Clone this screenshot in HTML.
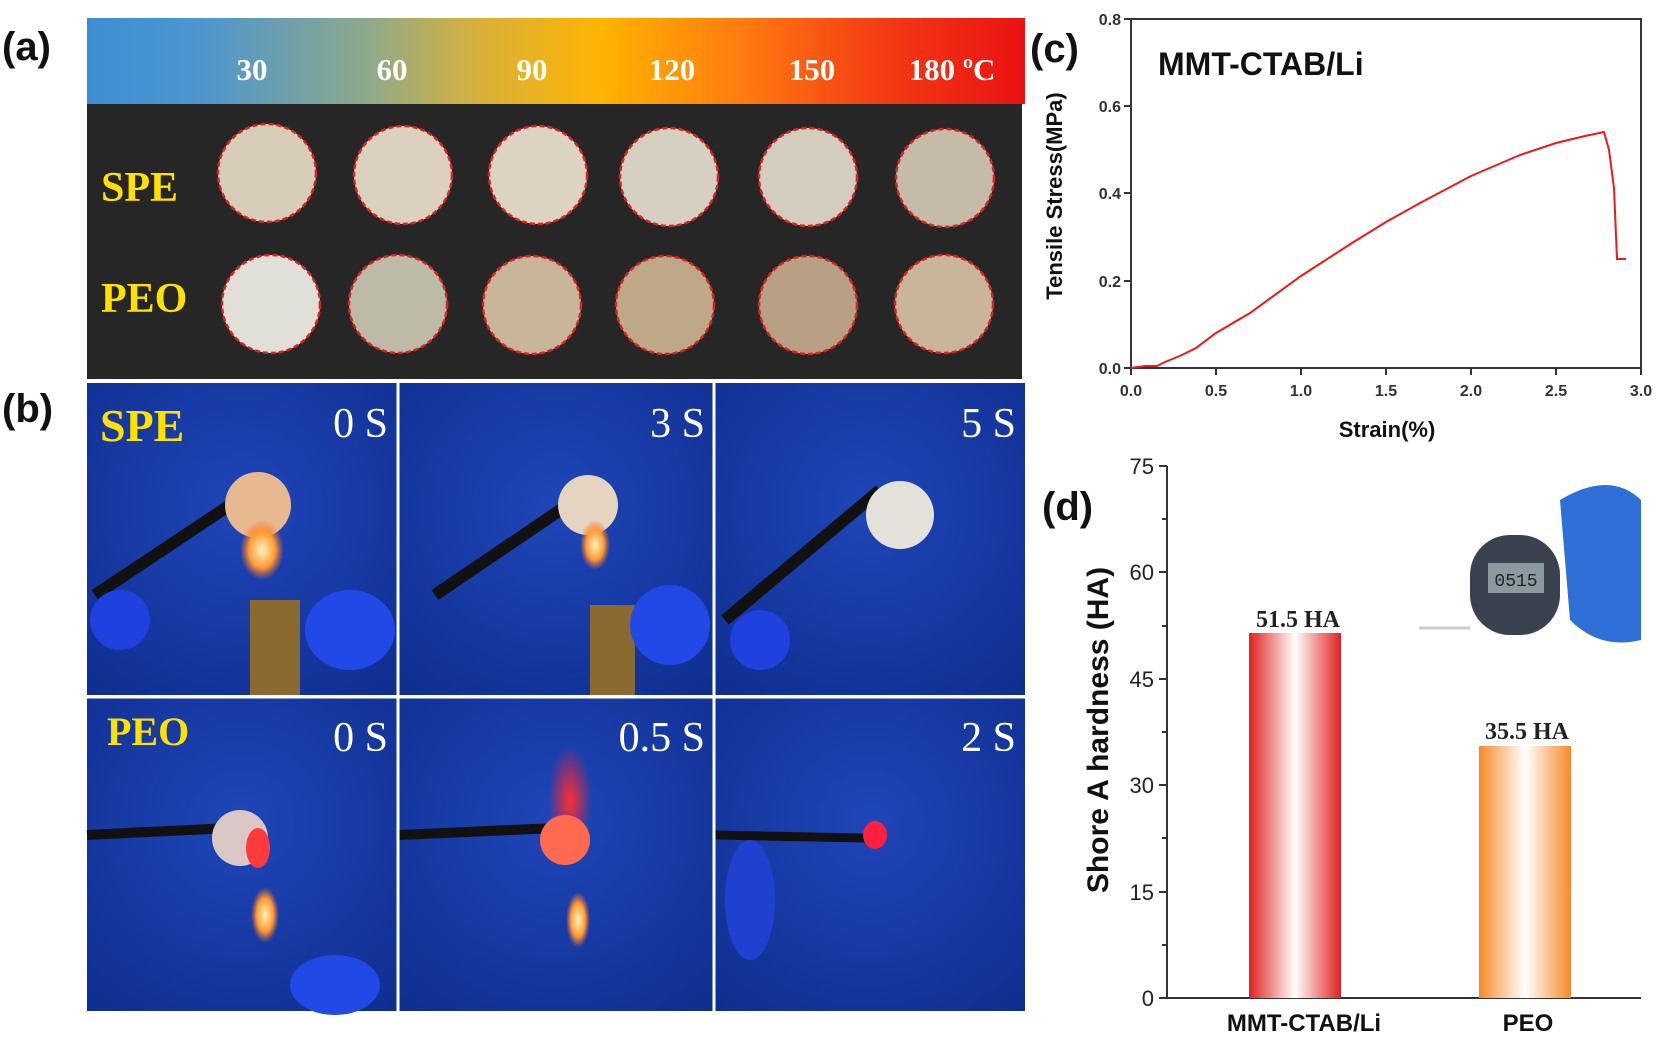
<!DOCTYPE html>
<html><head><meta charset="utf-8"><style>
html,body{margin:0;padding:0;background:#fff;}
svg{display:block;}
</style></head><body>
<svg width="1660" height="1043" viewBox="0 0 1660 1043" xmlns="http://www.w3.org/2000/svg">
<defs>
<linearGradient id="tg" x1="0" x2="1" y1="0" y2="0">
<stop offset="0" stop-color="#3d8fd3"/><stop offset="0.12" stop-color="#4c95cf"/>
<stop offset="0.3" stop-color="#8fa98a"/><stop offset="0.42" stop-color="#d9b13a"/>
<stop offset="0.55" stop-color="#ffb300"/><stop offset="0.7" stop-color="#ff7a10"/>
<stop offset="0.85" stop-color="#f43a14"/><stop offset="1" stop-color="#ea1212"/>
</linearGradient>
<linearGradient id="br" x1="0" x2="1"><stop offset="0" stop-color="#e02020"/><stop offset="0.5" stop-color="#fff"/><stop offset="1" stop-color="#e02020"/></linearGradient>
<linearGradient id="bo" x1="0" x2="1"><stop offset="0" stop-color="#f58a2a"/><stop offset="0.5" stop-color="#fff"/><stop offset="1" stop-color="#f58a2a"/></linearGradient>
<radialGradient id="blue" cx="0.5" cy="0.4" r="0.8"><stop offset="0" stop-color="#1f46b8"/><stop offset="1" stop-color="#0e2d8e"/></radialGradient>
<radialGradient id="flame" cx="0.5" cy="0.5" r="0.5"><stop offset="0" stop-color="#fff3c0"/><stop offset="0.6" stop-color="#ff9a30"/><stop offset="1" stop-color="#ff6a20" stop-opacity="0"/></radialGradient>
<radialGradient id="redg" cx="0.5" cy="0.5" r="0.5"><stop offset="0" stop-color="#ff3030"/><stop offset="1" stop-color="#ff2030" stop-opacity="0"/></radialGradient>
</defs>
<rect width="1660" height="1043" fill="#fff"/>
<!-- (a) -->
<text x="2" y="60" font-family="Liberation Sans, sans-serif" font-size="40" font-weight="bold" fill="#111">(a)</text>
<rect x="87" y="18" width="938" height="86" fill="url(#tg)"/>
<g font-family="Liberation Serif, serif" font-weight="bold" font-size="31" fill="#fff" text-anchor="middle">
<text x="252" y="80">30</text><text x="392" y="80">60</text><text x="532" y="80">90</text>
<text x="672" y="80">120</text><text x="812" y="80">150</text><text x="952" y="80">180 ºC</text>
</g>
<rect x="87" y="104" width="935" height="275" fill="#262626"/>
<g font-family="Liberation Serif, serif" font-weight="bold" font-size="42" fill="#ffe100">
<text x="101" y="201">SPE</text><text x="101" y="312">PEO</text>
</g>
<g stroke="#e02020" stroke-width="2.5" stroke-dasharray="5,3">
<circle cx="267" cy="173" r="49" fill="#d8cdb8"/><circle cx="403" cy="175" r="49" fill="#dcd1be"/>
<circle cx="538" cy="175" r="49" fill="#dcd3c2"/><circle cx="669" cy="177" r="49" fill="#d6d0c2"/>
<circle cx="808" cy="177" r="49" fill="#d3cdc0"/><circle cx="945" cy="178" r="49" fill="#c5bba8"/>
<circle cx="271" cy="304" r="49" fill="#e0e0d8"/><circle cx="398" cy="304" r="49" fill="#bdbaa8"/>
<circle cx="532" cy="305" r="49" fill="#c8b59a"/><circle cx="665" cy="305" r="49" fill="#bfa888"/>
<circle cx="808" cy="305" r="49" fill="#b9a084"/><circle cx="944" cy="304" r="49" fill="#c9b69a"/>
</g>
<!-- (b) -->
<text x="2" y="422" font-family="Liberation Sans, sans-serif" font-size="40" font-weight="bold" fill="#111">(b)</text>
<g>
<rect x="87" y="383" width="310" height="312" fill="url(#blue)"/>
<rect x="399" y="383" width="314" height="312" fill="url(#blue)"/>
<rect x="715" y="383" width="310" height="312" fill="url(#blue)"/>
<rect x="87" y="698" width="310" height="313" fill="url(#blue)"/>
<rect x="399" y="698" width="314" height="313" fill="url(#blue)"/>
<rect x="715" y="698" width="310" height="313" fill="url(#blue)"/>
</g>
<g>
<line x1="95" y1="595" x2="245" y2="495" stroke="#111" stroke-width="12"/>
<circle cx="258" cy="505" r="33" fill="#e8b890"/><ellipse cx="262" cy="550" rx="22" ry="30" fill="url(#flame)"/>
<rect x="250" y="600" width="50" height="95" fill="#8a6a30"/><ellipse cx="120" cy="620" rx="30" ry="30" fill="#2040e0"/>
<ellipse cx="350" cy="630" rx="45" ry="40" fill="#2348e8"/>
<line x1="435" y1="595" x2="575" y2="500" stroke="#111" stroke-width="12"/>
<circle cx="588" cy="505" r="30" fill="#e4d4c0"/><ellipse cx="595" cy="545" rx="15" ry="25" fill="url(#flame)"/>
<rect x="590" y="605" width="45" height="90" fill="#8a6a30"/><ellipse cx="670" cy="625" rx="40" ry="40" fill="#2348e8"/>
<line x1="725" y1="620" x2="880" y2="490" stroke="#111" stroke-width="12"/>
<circle cx="900" cy="515" r="34" fill="#e4e0da"/><ellipse cx="760" cy="640" rx="30" ry="30" fill="#2040e0"/>
</g>
<g>
<line x1="87" y1="835" x2="230" y2="828" stroke="#111" stroke-width="10"/>
<circle cx="240" cy="838" r="28" fill="#d9c8c4"/><ellipse cx="258" cy="848" rx="12" ry="20" fill="#ff3a3a"/>
<ellipse cx="265" cy="915" rx="14" ry="28" fill="url(#flame)"/><ellipse cx="335" cy="985" rx="45" ry="30" fill="#2348e8"/>
<line x1="399" y1="835" x2="555" y2="828" stroke="#111" stroke-width="10"/>
<ellipse cx="570" cy="800" rx="22" ry="55" fill="url(#redg)"/><circle cx="565" cy="840" r="25" fill="#ff6a50"/>
<ellipse cx="578" cy="920" rx="12" ry="28" fill="url(#flame)"/>
<line x1="715" y1="835" x2="865" y2="838" stroke="#111" stroke-width="9"/>
<ellipse cx="875" cy="835" rx="12" ry="14" fill="#ff2040"/><ellipse cx="750" cy="900" rx="25" ry="60" fill="#2040d0"/>
</g>
<g stroke="#fff" stroke-width="3"><line x1="398" y1="383" x2="398" y2="1011"/><line x1="714" y1="383" x2="714" y2="1011"/><line x1="87" y1="697" x2="1025" y2="697"/></g>
<g font-family="Liberation Serif, serif" font-size="42" fill="#fff" text-anchor="end">
<text x="388" y="437">0 S</text><text x="705" y="437">3 S</text><text x="1016" y="437">5 S</text>
<text x="388" y="751">0 S</text><text x="705" y="751">0.5 S</text><text x="1016" y="751">2 S</text>
</g>
<g font-family="Liberation Serif, serif" font-weight="bold" fill="#ffe100">
<text x="100" y="441" font-size="46">SPE</text><text x="107" y="745" font-size="40">PEO</text>
</g>
<!-- (c) -->
<text x="1030" y="62" font-family="Liberation Sans, sans-serif" font-size="40" font-weight="bold" fill="#111">(c)</text>
<rect x="1131" y="19" width="510" height="349" fill="none" stroke="#333" stroke-width="2"/>
<g stroke="#333" stroke-width="2">
<line x1="1131" y1="368" x2="1131" y2="375"/><line x1="1216" y1="368" x2="1216" y2="375"/><line x1="1301" y1="368" x2="1301" y2="375"/>
<line x1="1386" y1="368" x2="1386" y2="375"/><line x1="1471" y1="368" x2="1471" y2="375"/><line x1="1556" y1="368" x2="1556" y2="375"/><line x1="1641" y1="368" x2="1641" y2="375"/>
<line x1="1124" y1="368" x2="1131" y2="368"/><line x1="1124" y1="281" x2="1131" y2="281"/><line x1="1124" y1="193" x2="1131" y2="193"/><line x1="1124" y1="106" x2="1131" y2="106"/><line x1="1124" y1="19" x2="1131" y2="19"/>
</g>
<g font-family="Liberation Sans, sans-serif" font-size="16" font-weight="bold" fill="#333" text-anchor="middle">
<text x="1131" y="396">0.0</text><text x="1216" y="396">0.5</text><text x="1301" y="396">1.0</text><text x="1386" y="396">1.5</text><text x="1471" y="396">2.0</text><text x="1556" y="396">2.5</text><text x="1641" y="396">3.0</text>
</g>
<g font-family="Liberation Sans, sans-serif" font-size="16" font-weight="bold" fill="#333" text-anchor="end">
<text x="1121" y="374">0.0</text><text x="1121" y="287">0.2</text><text x="1121" y="199">0.4</text><text x="1121" y="112">0.6</text><text x="1121" y="25">0.8</text>
</g>
<text x="1387" y="437" font-family="Liberation Sans, sans-serif" font-size="22" font-weight="bold" fill="#111" text-anchor="middle">Strain(%)</text>
<text transform="translate(1062,196) rotate(-90)" font-family="Liberation Sans, sans-serif" font-size="22" font-weight="bold" fill="#111" text-anchor="middle">Tensile Stress(MPa)</text>
<text x="1158" y="75" font-family="Liberation Sans, sans-serif" font-size="32" font-weight="bold" fill="#111">MMT-CTAB/Li</text>
<polyline fill="none" stroke="#f01818" stroke-width="2" points="1131,368 1145,366 1157,366 1165,362 1182,355 1196,348 1216,333 1250,313 1301,276 1352,243 1386,222 1420,203 1471,176 1520,155 1556,143 1585,136 1604,132 1609,150 1614,188 1617,259 1626,259"/>
<!-- (d) -->
<text x="1042" y="520" font-family="Liberation Sans, sans-serif" font-size="40" font-weight="bold" fill="#111">(d)</text>
<rect x="1419" y="487" width="222" height="160" fill="#fff"/>
<path d="M1560,500 Q1610,470 1641,500 L1641,640 Q1600,650 1570,620 Z" fill="#2e6fd8"/>
<rect x="1470" y="535" width="90" height="100" rx="40" fill="#3a4250"/>
<rect x="1488" y="563" width="56" height="30" fill="#8a9aa0"/>
<text x="1516" y="586" font-family="Liberation Mono, monospace" font-size="18" fill="#222" text-anchor="middle">0515</text>
<line x1="1419" y1="628" x2="1470" y2="628" stroke="#ccc" stroke-width="3"/>
<line x1="1167" y1="466" x2="1167" y2="998" stroke="#333" stroke-width="2"/>
<line x1="1167" y1="998" x2="1641" y2="998" stroke="#333" stroke-width="2"/>
<g stroke="#333" stroke-width="2">
<line x1="1159" y1="998" x2="1167" y2="998"/><line x1="1159" y1="892" x2="1167" y2="892"/><line x1="1159" y1="785" x2="1167" y2="785"/><line x1="1159" y1="679" x2="1167" y2="679"/><line x1="1159" y1="572" x2="1167" y2="572"/><line x1="1159" y1="466" x2="1167" y2="466"/>
<line x1="1162" y1="945" x2="1167" y2="945"/><line x1="1162" y1="838" x2="1167" y2="838"/><line x1="1162" y1="732" x2="1167" y2="732"/><line x1="1162" y1="626" x2="1167" y2="626"/><line x1="1162" y1="519" x2="1167" y2="519"/>
</g>
<g font-family="Liberation Sans, sans-serif" font-size="22" fill="#222" text-anchor="end">
<text x="1154" y="1006">0</text><text x="1154" y="900">15</text><text x="1154" y="793">30</text><text x="1154" y="687">45</text><text x="1154" y="580">60</text><text x="1154" y="474">75</text>
</g>
<text transform="translate(1108,730) rotate(-90)" font-family="Liberation Sans, sans-serif" font-size="30" font-weight="bold" fill="#111" text-anchor="middle">Shore A hardness (HA)</text>
<rect x="1249" y="633" width="92" height="365" fill="url(#br)"/>
<rect x="1479" y="746" width="92" height="252" fill="url(#bo)"/>
<g font-family="Liberation Serif, serif" font-size="24" font-weight="bold" fill="#222" text-anchor="middle">
<text x="1298" y="627">51.5 HA</text><text x="1527" y="739">35.5 HA</text>
</g>
<g font-family="Liberation Sans, sans-serif" font-size="24" font-weight="bold" fill="#111" text-anchor="middle">
<text x="1304" y="1031">MMT-CTAB/Li</text><text x="1528" y="1031">PEO</text>
</g>
</svg>
</body></html>
